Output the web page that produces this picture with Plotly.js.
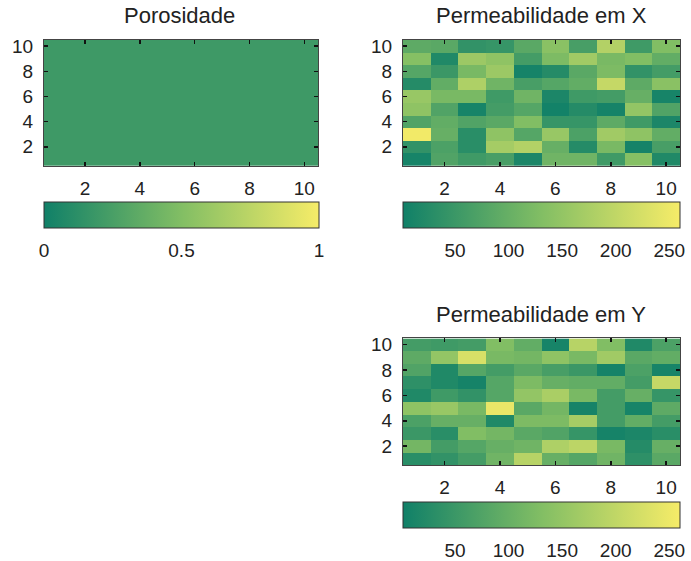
<!DOCTYPE html>
<html>
<head>
<meta charset="utf-8">
<script src="https://cdn.plot.ly/plotly-3.0.1.min.js"></script>
<style>html,body{margin:0;padding:0;background:#fff;}#chart{width:691px;height:561px;}</style>
</head>
<body>
<div id="chart"></div>
<script>
// grid coordinates
const cols = [1,2,3,4,5,6,7,8,9,10];
const rowsIdx = [1,2,3,4,5,6,7,8,9,10];

// Porosity (constant field)
const porosityValue = 0.2;

// Permeability in X, rows listed from y=10 (top) down to y=1 (bottom)
const permX_top_to_bottom = [
  [ 90,  85,  40,  45,  85, 140,  65, 185,  55, 130],
  [135,  20, 160, 145,  60, 125, 165, 120, 130,  95],
  [ 80,  50, 120, 160,   8,  25,  85, 125,  40,  60],
  [ 25,  95, 180, 110,  65,  80,  95, 205,  90, 140],
  [155, 120, 120,  55, 110,  15,  55,  60, 100,  10],
  [145,  75,  10,  60,  80,   5,  25,   8, 150,  75],
  [ 75,  95,  75,  85, 130,  45,  45,  90,  55,  15],
  [255, 100,  30, 145,  80, 155,  70, 165, 145,  95],
  [ 40,  70,  30, 170, 185, 100,  25, 120,   8,  65],
  [ 10,  75,  55,  65,  15, 110, 110,  55, 135,  20]
];

// Permeability in Y, rows listed from y=10 (top) down to y=1 (bottom)
const permY_top_to_bottom = [
  [ 60,  55,  60, 130,  95,  10, 190, 130,  20,  70],
  [ 90, 150, 225, 120, 115, 145, 120, 165,  85,  95],
  [ 75,  20,  80,  60,  85,  65,  50,   8,  70,  10],
  [ 35,  20,   8,  80, 125, 100,  95,  95,  60, 205],
  [ 20,  55,  40,  80, 150, 175, 120,  60, 100,  45],
  [145, 155, 120, 245,  85, 115,   8,  60,  10,  90],
  [ 70, 100, 100,  20, 125, 125, 170,  60,  95,  60],
  [ 50,  30, 130, 115,  85,  75,  45,   8,  15,  30],
  [115,  60,  80, 100, 110, 180, 195, 120,  25, 100],
  [ 30,  40,  60, 110, 190, 100,  80, 110,  35,  85]
];

const permRange = [1.5, 260];
const permTicks = [50, 100, 150, 200, 250];
const porRange = [0, 1];
const porTicks = [0, 0.5, 1];
const porTickText = ['0', '0.5', '1'];

const titles = ['Porosidade', 'Permeabilidade em X', 'Permeabilidade em Y'];

const W = 691, H = 561;
const fx = p => p / W;
const fy = p => 1 - p / H;

const scale = [
  [0, 'rgb(16,128,104)'],
  [0.5, 'rgb(130,190,100)'],
  [1, 'rgb(246,236,104)']
];

const porZ = rowsIdx.map(() => cols.map(() => porosityValue));
const permXZ = permX_top_to_bottom.slice().reverse();
const permYZ = permY_top_to_bottom.slice().reverse();

const fontFam = 'Liberation Sans, Arial, Helvetica, sans-serif';
const tickFont = {family: fontFam, size: 19, color: '#222'};
const titleFont = {family: fontFam, size: 22, color: '#222'};

function cbar(x0, x1, yTop, vals, text) {
  return {
    orientation: 'h',
    x: fx((x0 + x1) / 2), xanchor: 'center',
    y: fy(yTop), yanchor: 'top',
    len: x1 - x0, lenmode: 'pixels',
    thickness: 26, thicknessmode: 'pixels',
    xpad: 0, ypad: 0,
    outlinewidth: 1, outlinecolor: '#333',
    ticks: 'outside', ticklen: 6, tickcolor: 'rgba(0,0,0,0)',
    tickvals: vals, ticktext: text,
    tickfont: tickFont
  };
}

const data = [
  {type: 'heatmap', x: cols, y: rowsIdx, z: porZ, colorscale: scale,
   zmin: porRange[0], zmax: porRange[1], xaxis: 'x', yaxis: 'y',
   colorbar: cbar(44, 319, 202, porTicks, porTickText), hoverinfo: 'z'},
  {type: 'heatmap', x: cols, y: rowsIdx, z: permXZ, colorscale: scale,
   zmin: permRange[0], zmax: permRange[1], xaxis: 'x2', yaxis: 'y2',
   colorbar: cbar(403, 680, 202, permTicks, permTicks.map(String)), hoverinfo: 'z'},
  {type: 'heatmap', x: cols, y: rowsIdx, z: permYZ, colorscale: scale,
   zmin: permRange[0], zmax: permRange[1], xaxis: 'x3', yaxis: 'y3',
   colorbar: cbar(403, 680, 502, permTicks, permTicks.map(String)), hoverinfo: 'z'}
];

function ax(domain, anchor, standoff) {
  return {
    domain: domain, anchor: anchor,
    range: [0.5, 10.5], tickvals: [2, 4, 6, 8, 10],
    ticks: 'inside', ticklen: 4, tickcolor: '#111', tickwidth: 1.5,
    showline: true, linecolor: '#444', linewidth: 1, mirror: 'ticks',
    showgrid: false, zeroline: false, fixedrange: true,
    ticklabelstandoff: standoff,
    tickfont: tickFont
  };
}

const layout = {
  width: W, height: H,
  margin: {l: 0, r: 0, t: 0, b: 0},
  paper_bgcolor: '#fff', plot_bgcolor: '#fff',
  showlegend: false,
  font: {family: fontFam, color: '#222'},
  xaxis: ax([fx(44), fx(318)], 'y', 5),
  yaxis: ax([fy(166), fy(40)], 'x', 6),
  xaxis2: ax([fx(403), fx(680)], 'y2', 5),
  yaxis2: ax([fy(166), fy(40)], 'x2', 6),
  xaxis3: ax([fx(403), fx(680)], 'y3', 5),
  yaxis3: ax([fy(466), fy(339)], 'x3', 6),
  annotations: [
    {text: titles[0], xref: 'paper', yref: 'paper', x: fx(179), y: fy(16), xanchor: 'center', yanchor: 'middle', showarrow: false, font: titleFont},
    {text: titles[1], xref: 'paper', yref: 'paper', x: fx(541), y: fy(16), xanchor: 'center', yanchor: 'middle', showarrow: false, font: titleFont},
    {text: titles[2], xref: 'paper', yref: 'paper', x: fx(541), y: fy(315), xanchor: 'center', yanchor: 'middle', showarrow: false, font: titleFont}
  ]
};

Plotly.newPlot('chart', data, layout, {staticPlot: true, displayModeBar: false});
</script>
</body>
</html>
